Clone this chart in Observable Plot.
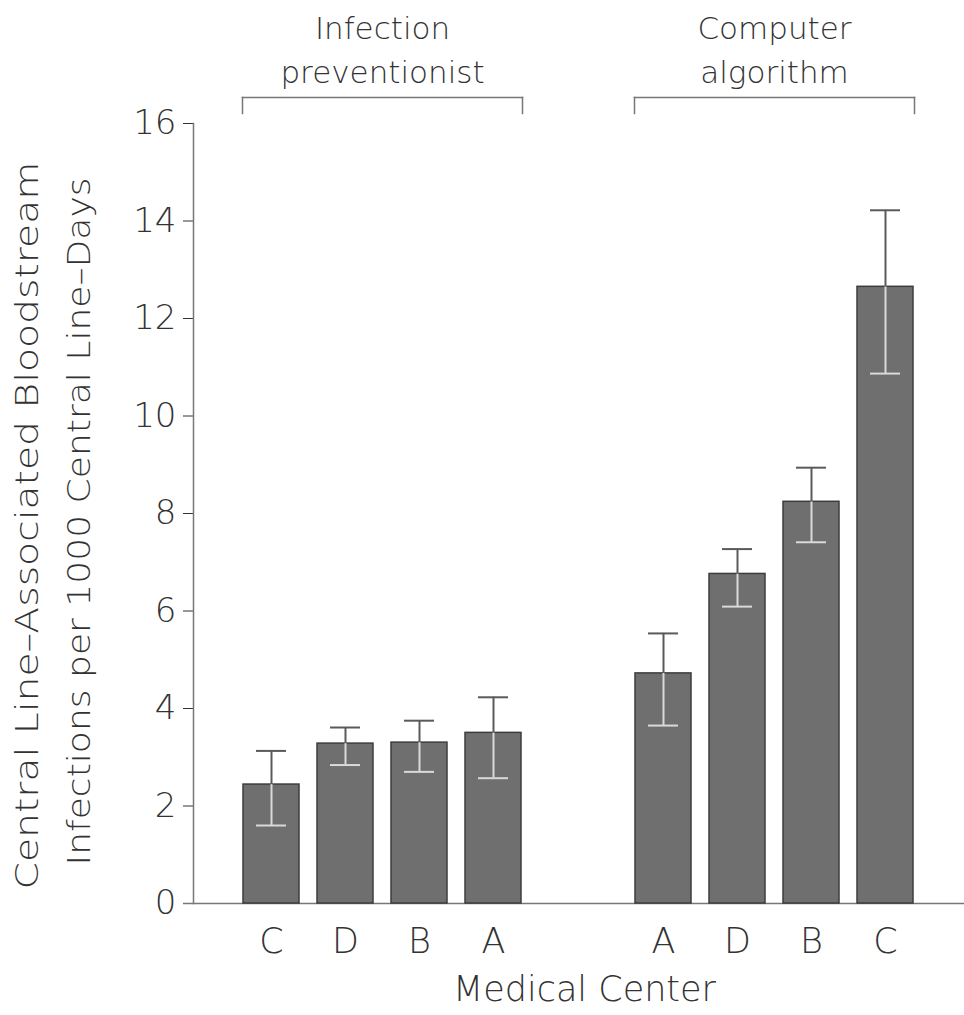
<!DOCTYPE html>
<html><head><meta charset="utf-8">
<script src="https://cdn.jsdelivr.net/npm/d3@7"></script>
<script src="https://cdn.jsdelivr.net/npm/@observablehq/plot@0.6"></script>
<style>html,body{margin:0;padding:0;background:#fff;}</style>
</head><body><div id="chart"></div>
<script>
// Groups (methods) and their medical centers, in display order
const groups = ["Infection\npreventionist", "Computer\nalgorithm"];

const ipCenters = ["C", "D", "B", "A"];
const ipRates   = [2.44, 3.28, 3.30, 3.50];
const ipLow     = [1.60, 2.84, 2.70, 2.57];
const ipHigh    = [3.13, 3.61, 3.75, 4.23];

const caCenters = ["A", "D", "B", "C"];
const caRates   = [4.72, 6.76, 8.24, 12.65];
const caLow     = [3.65, 6.09, 7.41, 10.87];
const caHigh    = [5.54, 7.27, 8.94, 14.22];

const yTicks = [0, 2, 4, 6, 8, 10, 12, 14, 16];
const yLabel1 = "Central Line\u2013Associated Bloodstream";
const yLabel2 = "Infections per 1000 Central Line\u2013Days";
const xLabel = "Medical Center";

const data = [];
ipCenters.forEach((c, i) => data.push({group: groups[0], pos: i, center: c, rate: ipRates[i], lo: ipLow[i], hi: ipHigh[i]}));
caCenters.forEach((c, i) => data.push({group: groups[1], pos: i, center: c, rate: caRates[i], lo: caLow[i], hi: caHigh[i]}));

const axisColor = "#777";
const dark = "#5a5a5a";
const light = "#dadada";

const chart = Plot.plot({
  width: 964,
  height: 1015,
  marginLeft: 192,
  marginRight: 0,
  marginTop: 123,
  marginBottom: 112,
  style: {fontFamily: "'DejaVu Sans', sans-serif", fontSize: "34px", fontWeight: 200, color: "#333", background: "#fff"},
  fx: {domain: groups, paddingInner: 0.0356, paddingOuter: 0, axis: "bottom", tickSize: 0, tickFormat: () => "", label: null},
  x: {domain: [0, 1, 2, 3], axis: null, paddingInner: 0.245, paddingOuter: 0.649, align: 0.5},
  y: {domain: [0, 16], ticks: yTicks, tickSize: 10, tickPadding: 7, label: null},
  marks: [
    Plot.frame({anchor: "left", facetAnchor: "left", stroke: axisColor, strokeWidth: 1.5}),
    Plot.ruleY([0], {facetAnchor: "left", insetLeft: -10, insetRight: -393, stroke: axisColor, strokeWidth: 1.5}),
    Plot.barY(data, {fx: "group", x: "pos", y: "rate", fill: "#6f6f6f", stroke: "#3c3c3c", strokeWidth: 1.5}),
    Plot.ruleX(data, {fx: "group", x: "pos", y1: "lo", y2: "rate", stroke: light, strokeWidth: 2}),
    Plot.ruleX(data, {fx: "group", x: "pos", y1: "rate", y2: "hi", stroke: dark, strokeWidth: 2}),
    Plot.tickY(data, {fx: "group", x: "pos", y: "lo", insetLeft: 13, insetRight: 13, stroke: light, strokeWidth: 2}),
    Plot.tickY(data, {fx: "group", x: "pos", y: "hi", insetLeft: 13, insetRight: 13, stroke: dark, strokeWidth: 2}),
    Plot.text(data, {fx: "group", x: "pos", text: "center", frameAnchor: "bottom", dy: 38, lineAnchor: "middle", fontSize: 35, fill: "#333"}),
    // x axis title, centered across the whole frame
    Plot.text([xLabel], {text: d => d, frameAnchor: "bottom-left", facetAnchor: "left", textAnchor: "middle", dx: 391, dy: 86, lineAnchor: "middle", fontSize: 35, fill: "#333"}),
    // group brackets
    Plot.frame({anchor: "top", insetTop: -26, insetLeft: 49, insetRight: 49, stroke: axisColor, strokeWidth: 1.5}),
    Plot.frame({anchor: "left", insetTop: -26, insetBottom: 790, insetLeft: 49, stroke: axisColor, strokeWidth: 1.5}),
    Plot.frame({anchor: "right", insetTop: -26, insetBottom: 790, insetRight: 49, stroke: axisColor, strokeWidth: 1.5}),
    Plot.text(groups, {fx: d => d, text: d => d, frameAnchor: "top", dy: -41, lineAnchor: "bottom", lineHeight: 1.4, fontSize: 31, fill: "#333"}),
    // y axis title (two lines)
    Plot.text([yLabel1], {text: d => d, frameAnchor: "left", facetAnchor: "left", textAnchor: "middle", rotate: -90, dx: -156, dy: 12, lineAnchor: "bottom", fontSize: 32, fill: "#333"}),
    Plot.text([yLabel2], {text: d => d, frameAnchor: "left", facetAnchor: "left", textAnchor: "middle", rotate: -90, dx: -104, dy: 8, lineAnchor: "bottom", fontSize: 32, fill: "#333"})
  ]
});
// stretch the long rotated axis title lines to the reference's length
chart.querySelectorAll("text").forEach(t => {
  if (t.textContent === yLabel1) { t.setAttribute("textLength", 728); t.setAttribute("lengthAdjust", "spacingAndGlyphs"); }
  if (t.textContent === yLabel2) { t.setAttribute("textLength", 688); t.setAttribute("lengthAdjust", "spacingAndGlyphs"); }
});
document.getElementById("chart").appendChild(chart);
</script>
</body></html>
